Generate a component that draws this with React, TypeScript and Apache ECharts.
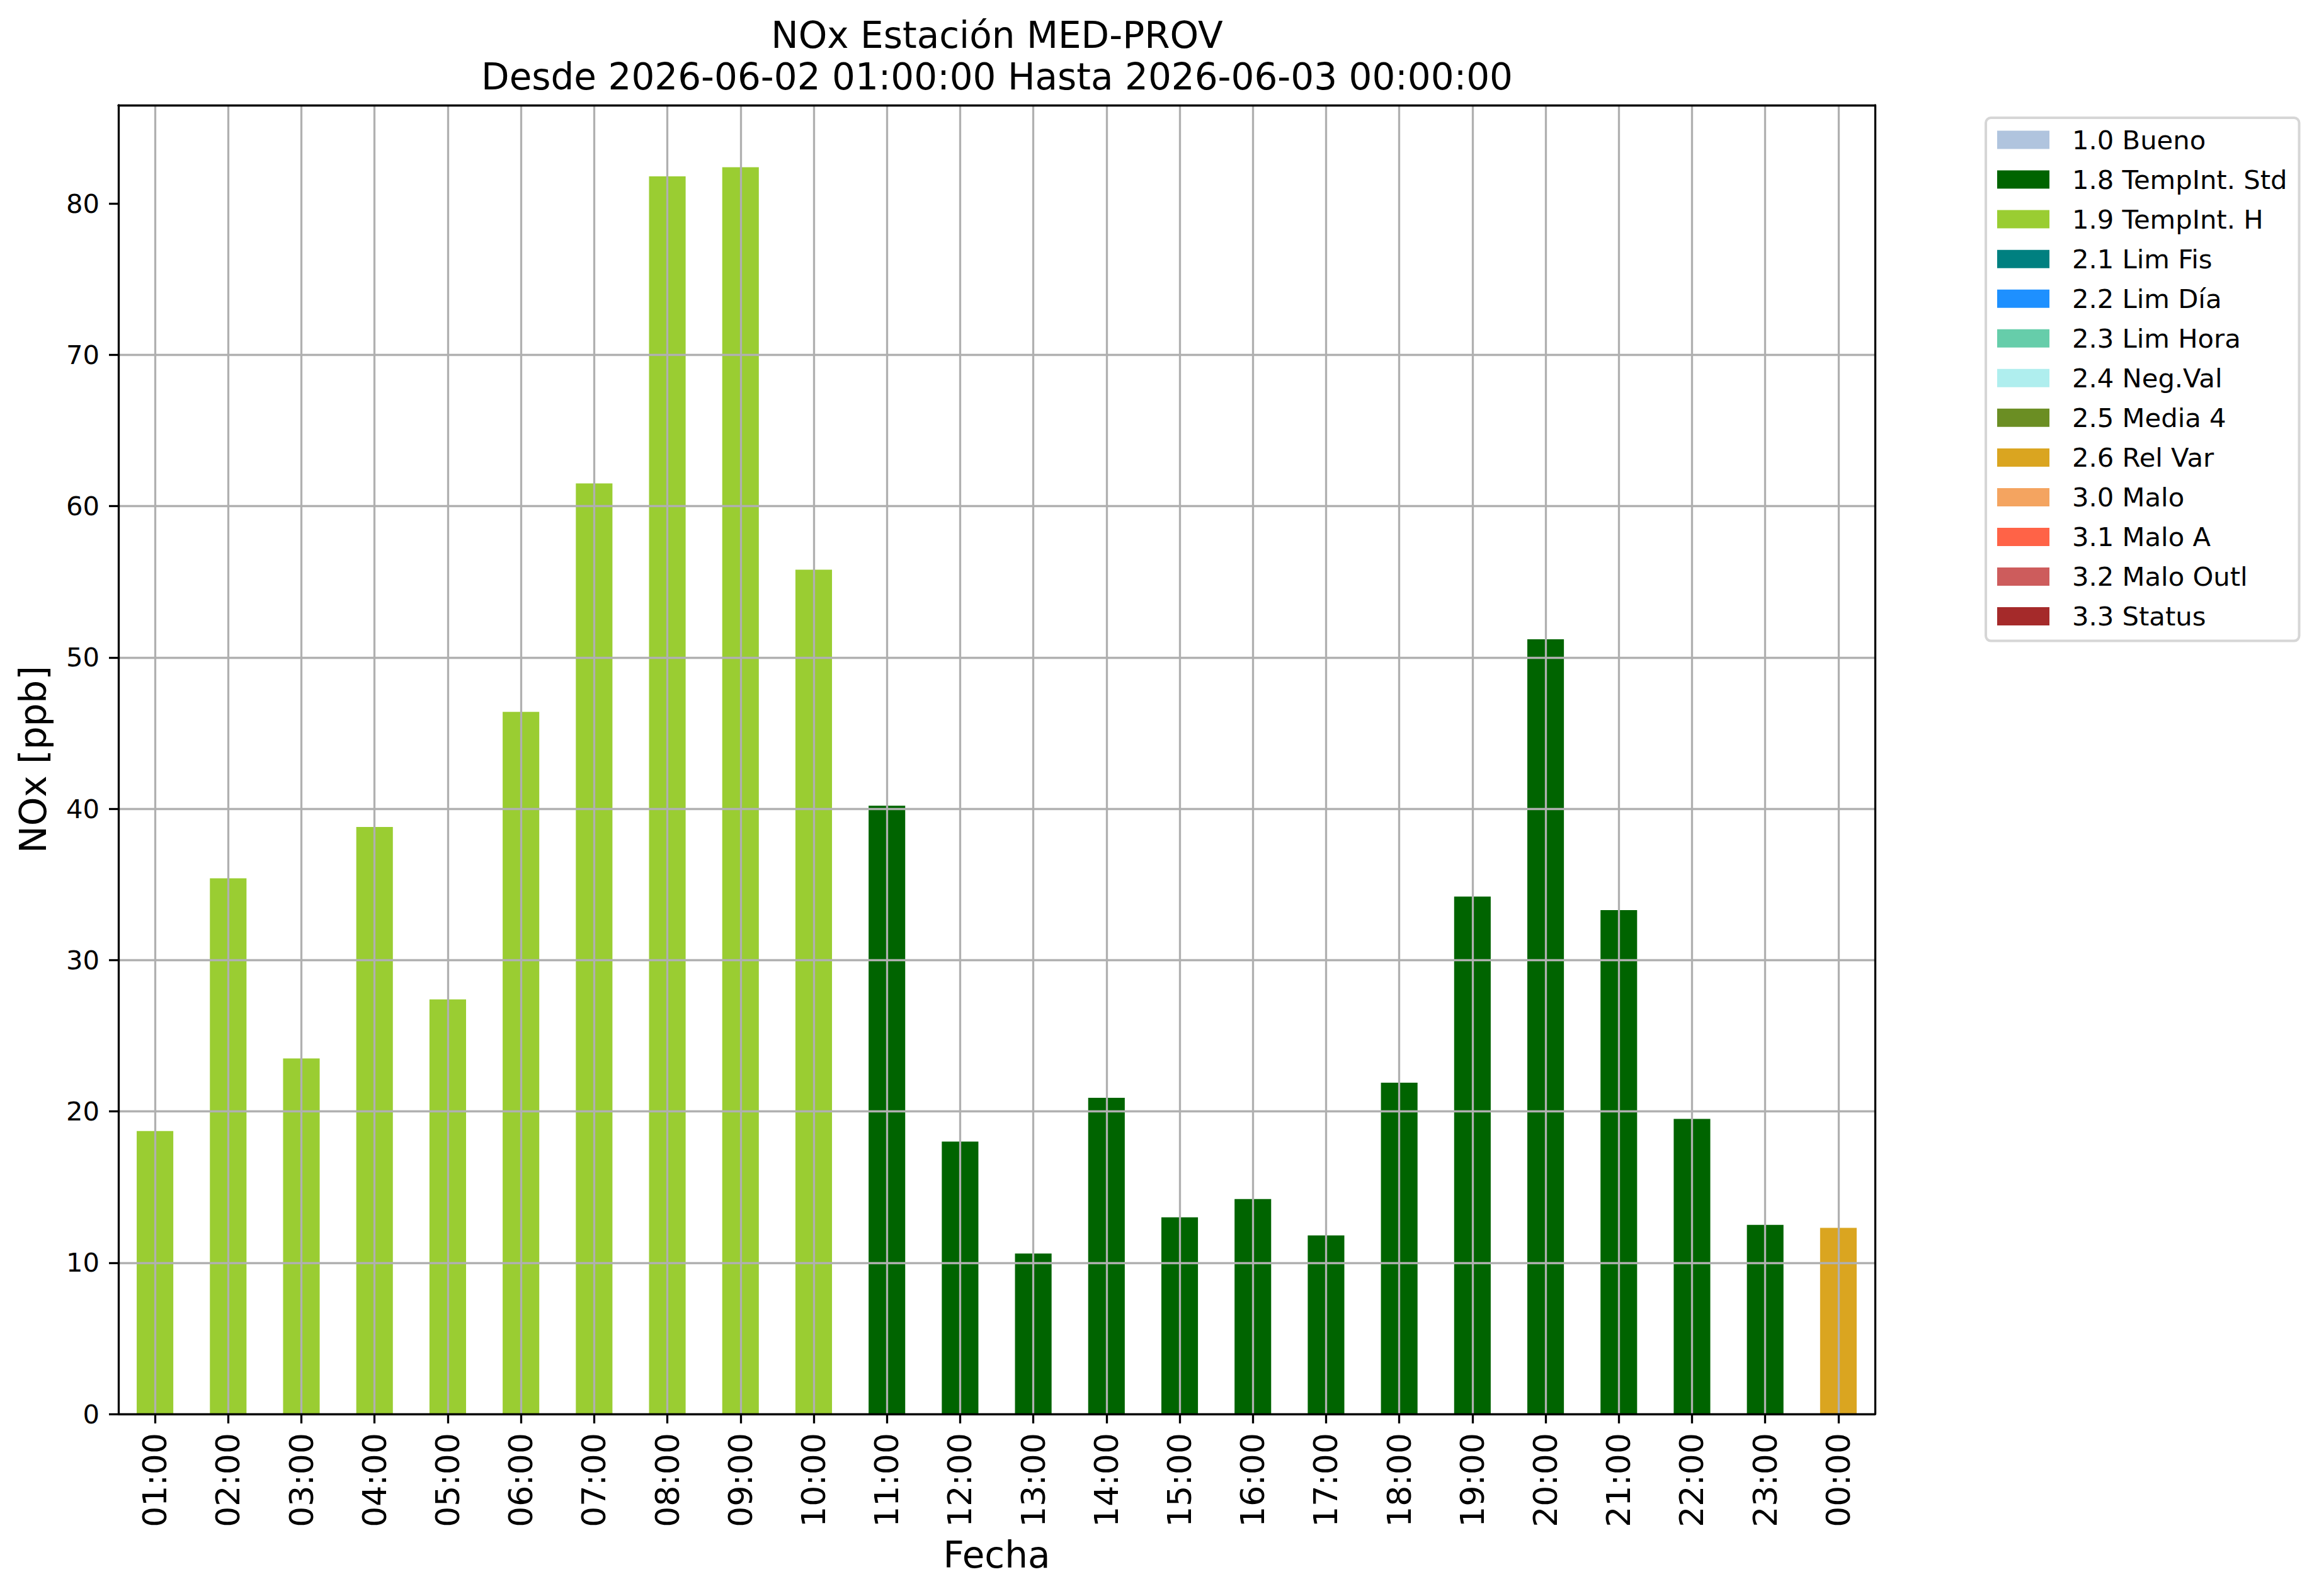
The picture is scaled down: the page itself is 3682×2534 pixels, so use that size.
import React, { useEffect, useRef } from 'react';
import * as echarts from 'echarts';

const categories = [
  '01:00', '02:00', '03:00', '04:00', '05:00', '06:00', '07:00', '08:00',
  '09:00', '10:00', '11:00', '12:00', '13:00', '14:00', '15:00', '16:00',
  '17:00', '18:00', '19:00', '20:00', '21:00', '22:00', '23:00', '00:00',
];

const flagNames = [
  '1.0 Bueno', '1.8 TempInt. Std', '1.9 TempInt. H', '2.1 Lim Fis', '2.2 Lim Día',
  '2.3 Lim Hora', '2.4 Neg.Val', '2.5 Media 4', '2.6 Rel Var', '3.0 Malo',
  '3.1 Malo A', '3.2 Malo Outl', '3.3 Status',
];

const flagColors = [
  '#b0c4de', '#006400', '#9acd32', '#008080', '#1e90ff',
  '#66cdaa', '#afeeee', '#6b8e23', '#daa520', '#f4a460',
  '#ff6347', '#cd5c5c', '#a52a2a',
];

const tempIntHValues = [
  18.7, 35.4, 23.5, 38.8, 27.4, 46.4, 61.5, 81.8, 82.4, 55.8,
  null, null, null, null, null, null, null, null, null, null, null, null, null, null,
];

const tempIntStdValues = [
  null, null, null, null, null, null, null, null, null, null,
  40.2, 18.0, 10.6, 20.9, 13.0, 14.2, 11.8, 21.9, 34.2, 51.2, 33.3, 19.5, 12.5,
  null,
];

const relVarValues = [
  null, null, null, null, null, null, null, null, null, null, null, null,
  null, null, null, null, null, null, null, null, null, null, null, 12.3,
];

const yTicks = [0, 10, 20, 30, 40, 50, 60, 70, 80];
const yMax = 86.5;

const titleText = 'NOx Estación MED-PROV\nDesde 2026-06-02 01:00:00 Hasta 2026-06-03 00:00:00';
const yName = 'NOx [ppb]';
const xName = 'Fecha';

const FONT = 'DejaVu Sans';
const LW = 3.3;
const GRID_COLOR = '#b0b0b0';

export default function App() {
  const ref = useRef<HTMLDivElement>(null);

  useEffect(() => {
    document.body.style.margin = '0';
    document.body.style.overflow = 'hidden';
    if (!ref.current) return;
    const chart = echarts.init(ref.current, null, { renderer: 'svg' });

    const dataByFlag: Record<string, (number | null)[]> = {
      '1.8 TempInt. Std': tempIntStdValues,
      '1.9 TempInt. H': tempIntHValues,
      '2.6 Rel Var': relVarValues,
    };

    const series: any[] = flagNames.map((name, i) => {
      const s: any = {
        name,
        type: 'bar',
        stack: 'total',
        barWidth: '50%',
        itemStyle: { color: flagColors[i] },
        data: dataByFlag[name] || categories.map(() => null),
        z: 2,
      };
      if (name === '1.9 TempInt. H') {
        s.markLine = {
          silent: true,
          symbol: ['none', 'none'],
          label: { show: false },
          lineStyle: { color: GRID_COLOR, width: LW, type: 'solid' },
          z: 5,
          data: categories.map((c) => ({ xAxis: c })),
        };
      }
      return s;
    });

    chart.setOption({
      animation: false,
      backgroundColor: '#ffffff',
      textStyle: { fontFamily: FONT },
      title: {
        text: titleText,
        left: 1583,
        top: 23,
        textAlign: 'center',
        padding: 0,
        textStyle: {
          fontFamily: FONT,
          fontSize: 58,
          fontWeight: 'normal',
          color: '#000',
          lineHeight: 66,
        },
      },
      legend: {
        data: flagNames,
        orient: 'vertical',
        left: 3153,
        top: 187,
        padding: [14, 19, 18, 18],
        itemWidth: 83,
        itemHeight: 29,
        itemGap: 21.05,
        icon: 'rect',
        selectedMode: false,
        borderColor: '#d6d6d6',
        borderWidth: 4,
        borderRadius: 8,
        backgroundColor: '#ffffff',
        textStyle: {
          fontFamily: FONT,
          fontSize: 41.7,
          color: '#000',
          padding: [0, 0, 0, 31],
        },
      },
      grid: {
        left: 188,
        right: 705,
        top: 167,
        bottom: 289,
        containLabel: false,
      },
      xAxis: [
        {
          type: 'category',
          data: categories,
          z: 6,
          name: xName,
          nameLocation: 'middle',
          nameGap: 195,
          nameTextStyle: { fontFamily: FONT, fontSize: 58, color: '#000' },
          axisLine: { show: true, onZero: false, lineStyle: { color: '#000', width: LW } },
          axisTick: {
            show: true,
            alignWithLabel: true,
            length: 15,
            lineStyle: { color: '#000', width: LW },
          },
          axisLabel: {
            interval: 0,
            rotate: 90,
            margin: 30,
            fontFamily: FONT,
            fontSize: 52,
            color: '#000',
          },
          splitLine: { show: false },
        },
        {
          type: 'category',
          data: categories,
          position: 'top',
          z: 6,
          axisLine: { show: true, onZero: false, lineStyle: { color: '#000', width: LW } },
          axisTick: { show: false },
          axisLabel: { show: false },
          splitLine: { show: false },
        },
      ],
      yAxis: [
        {
          type: 'value',
          min: 0,
          max: yMax,
          interval: 10,
          z: 3,
          name: yName,
          nameLocation: 'middle',
          nameRotate: 90,
          nameGap: 106,
          nameTextStyle: { fontFamily: FONT, fontSize: 58, color: '#000' },
          axisLine: { show: true, onZero: false, lineStyle: { color: '#000', width: LW } },
          axisTick: {
            show: true,
            length: 15,
            customValues: yTicks,
            lineStyle: { color: '#000', width: LW },
          },
          axisLabel: {
            customValues: yTicks,
            margin: 30,
            fontFamily: FONT,
            fontSize: 41.7,
            color: '#000',
          },
          splitLine: {
            show: true,
            showMinLine: false,
            showMaxLine: false,
            lineStyle: { color: GRID_COLOR, width: LW },
          },
        },
        {
          type: 'value',
          min: 0,
          max: yMax,
          interval: 10,
          position: 'right',
          z: 6,
          axisLine: { show: true, onZero: false, lineStyle: { color: '#000', width: LW } },
          axisTick: { show: false },
          axisLabel: { show: false },
          splitLine: { show: false },
        },
      ],
      series,
    });

    return () => {
      chart.dispose();
    };
  }, []);

  return <div ref={ref} style={{ width: 3682, height: 2534 }} />;
}
